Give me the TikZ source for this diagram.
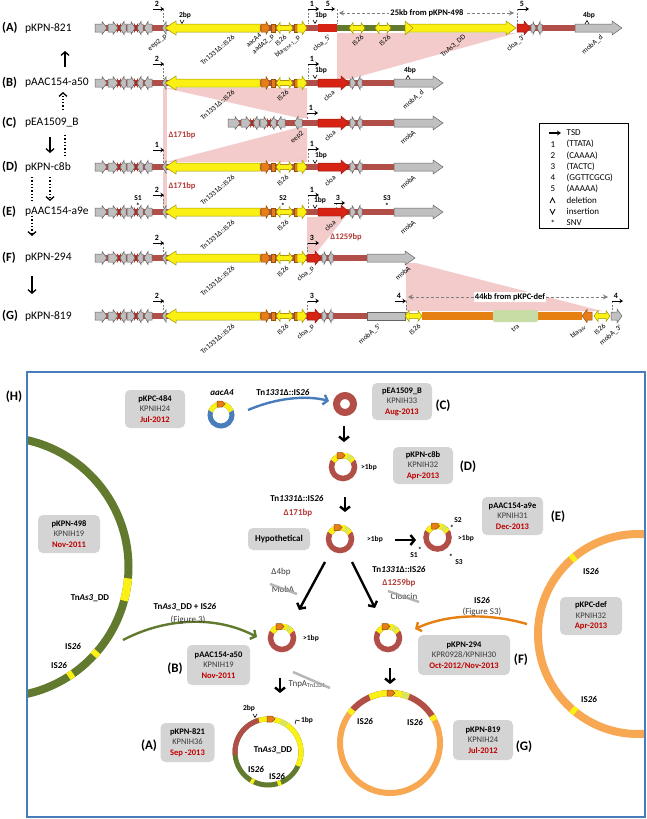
\documentclass[tikz,border=0pt]{standalone}
\usepackage{fontspec}
\setmainfont{Carlito}
\usetikzlibrary{arrows.meta,calc}
\definecolor{bk}{RGB}{178,78,72}
\definecolor{gfill}{RGB}{192,192,192}
\definecolor{gline}{RGB}{100,100,100}
\definecolor{yfill}{RGB}{250,240,20}
\definecolor{yline}{RGB}{160,150,0}
\definecolor{ofill}{RGB}{230,125,25}
\definecolor{oline}{RGB}{150,80,10}
\definecolor{rfill}{RGB}{215,35,20}
\definecolor{olive}{RGB}{98,122,45}
\definecolor{pinkS}{RGB}{243,203,203}
\definecolor{traG}{RGB}{200,220,165}
\definecolor{orangeBar}{RGB}{230,128,18}
\definecolor{orangeC}{RGB}{248,168,82}
\definecolor{blueP}{RGB}{72,124,186}
\definecolor{boxG}{RGB}{212,212,212}
\definecolor{dateR}{RGB}{192,0,0}
\definecolor{delR}{RGB}{178,60,58}
\definecolor{lgY}{RGB}{215,230,90}
\definecolor{txtG}{RGB}{60,60,60}
\tikzset{
 gS/.style={fill=gfill,draw=gline,line width=0.5pt},
 yS/.style={fill=yfill,draw=yline,line width=0.5pt},
 oS/.style={fill=ofill,draw=oline,line width=0.5pt},
 rS/.style={fill=rfill,draw=rfill!70!black,line width=0.5pt},
 glab/.style={font=\fontsize{7.2}{8}\selectfont, rotate=40, anchor=north east, inner sep=0.2pt},
 rowid/.style={font=\fontsize{12.5}{14}\selectfont\bfseries, anchor=west, inner sep=0pt},
 rowname/.style={font=\fontsize{11.5}{14}\selectfont, anchor=west, inner sep=0pt},
 tsdnum/.style={font=\fontsize{8}{8}\selectfont\bfseries, inner sep=0.5pt},
 tsdarr/.style={line width=1pt,-{Stealth[length=3.5pt,width=4.5pt]}},
 tsdline/.style={gray, line width=0.5pt, dash pattern=on 2pt off 1.5pt},
 bplab/.style={font=\fontsize{7.5}{8}\selectfont\bfseries, inner sep=0.3pt},
 dellab/.style={font=\fontsize{8.5}{9}\selectfont\bfseries, text=delR, inner sep=0.5pt},
 leg/.style={font=\fontsize{9}{10}\selectfont, anchor=west, inner sep=0.5pt},
 pbox/.style={fill=boxG, rounded corners=5pt, align=center, font=\fontsize{8.5}{10.5}\selectfont, inner sep=1pt},
 plab/.style={font=\fontsize{13}{14}\selectfont\bfseries, inner sep=0.5pt},
 ptxt/.style={font=\fontsize{9}{10}\selectfont\bfseries, inner sep=0.5pt},
 ptxtr/.style={font=\fontsize{9}{10}\selectfont, inner sep=0.5pt, text=txtG},
 blk/.style={line width=2.4pt, -{Straight Barb[length=4pt,width=10pt]}},
 thinblk/.style={line width=1.3pt, -{Straight Barb[length=3.5pt,width=8pt]}},
 dotblk/.style={line width=1.3pt, dotted, -{Straight Barb[length=3.5pt,width=8pt]}},
 strikebar/.style={line width=2.5pt, gray!70, opacity=0.8},
 kbarr/.style={gray, line width=1pt, dash pattern=on 3pt off 2pt, {Stealth[length=5pt,width=5pt]}-{Stealth[length=5pt,width=5pt]}},
 curvarr/.style={line width=2.4pt, -{Straight Barb[length=4pt,width=10pt]}},
}
% gene arrows: x1, x2, y, body half, head half, head length, style
\newcommand\arR[7]{\filldraw[#7] (#1,{#3-#4}) -- ({#2-#6},{#3-#4}) -- ({#2-#6},{#3-#5}) -- (#2,#3) -- ({#2-#6},{#3+#5}) -- ({#2-#6},{#3+#4}) -- (#1,{#3+#4}) -- cycle;}
\newcommand\arL[7]{\filldraw[#7] (#2,{#3-#4}) -- ({#1+#6},{#3-#4}) -- ({#1+#6},{#3-#5}) -- (#1,#3) -- ({#1+#6},{#3+#5}) -- ({#1+#6},{#3+#4}) -- (#2,{#3+#4}) -- cycle;}
\newcommand\arD[7]{\filldraw[#7] (#1,#3) -- ({#1+#6},{#3-#5}) -- ({#1+#6},{#3-#4}) -- ({#2-#6},{#3-#4}) -- ({#2-#6},{#3-#5}) -- (#2,#3) -- ({#2-#6},{#3+#5}) -- ({#2-#6},{#3+#4}) -- ({#1+#6},{#3+#4}) -- ({#1+#6},{#3+#5}) -- cycle;}
\newcommand\bb[3]{\fill[bk] (#1,{#3-3}) rectangle (#2,{#3+3});}
\newcommand\rx[2]{\draw[rfill!80!black, line width=0.7pt] ({#1-2},{#2-4.5}) -- ({#1+2},{#2+4.5}) ({#1-2},{#2+4.5}) -- ({#1+2},{#2-4.5});}
\newcommand\lp[2]{%
 \arR{#1}{#1+12}{#2}{4}{6.5}{5}{gS}
 \arR{#1+13}{#1+23}{#2}{4}{6.5}{5}{gS}
 \rx{#1+24}{#2}
 \arL{#1+25}{#1+31}{#2}{4}{6.5}{4}{gS}
 \arR{#1+32}{#1+40}{#2}{4}{6.5}{4}{gS}
 \rx{#1+41}{#2}
 \arL{#1+42}{#1+48}{#2}{4}{6.5}{4}{gS}
 \arL{#1+49}{#1+57}{#2}{4}{6.5}{4}{gS}}
\newcommand\tnm[1]{%
 \arL{165}{260}{#1}{4}{7}{11}{yS}
 \arR{261}{270}{#1}{4}{6.5}{4}{oS}
 \filldraw[oS] (271,{#1-4}) rectangle (275,{#1+4});
 \arD{276}{293}{#1}{2.5}{5.5}{4}{yS}
 \filldraw[oS] (294,{#1-4}) rectangle (297,{#1+4});
 \arR{297}{307}{#1}{4}{7}{5}{yS}}
\newcommand\rp[1]{%
 \arR{318}{349}{#1}{4}{7}{8}{rS}
 \arR{350}{356}{#1}{4}{6.5}{4}{gS}
 \arL{357}{362}{#1}{4}{6.5}{3}{gS}
 \arR{394}{443}{#1}{4}{7}{10}{gS}}
\newcommand\tsd[5]{\draw[tsdline] (#4,#3) -- (#4,#5); \draw[tsdarr] (#2,#3) -- (#2+11,#3); \node[tsdnum] at (#2+4,#3-5) {#1};}
\newcommand\insm[2]{\draw[line width=0.6pt] ({#1-2},{#2-2}) -- (#1,{#2+1.5}) -- ({#1+2},{#2-2});}
\newcommand\delm[2]{\draw[line width=0.6pt] ({#1-2},{#2+2}) -- (#1,{#2-1.5}) -- ({#1+2},{#2+2});}
\newcommand\oarr[2]{\filldraw[oS] ({#1-4},{#2-3}) -- ({#1+1},{#2-3}) -- ({#1+4},#2) -- ({#1+1},{#2+3}) -- ({#1-4},{#2+3}) -- cycle;}
\newcommand\plas[3]{%
 \coordinate (#1) at (#2,#3);
 \draw[bk, line width=5.5pt] (#1) circle[radius=11.5];
 \draw[yfill, line width=5.5pt] ([shift={(-30:11.5)}]#1) arc[start angle=-30, end angle=-150, radius=11.5];
 \draw[lgY, line width=5.5pt] ([shift={(-45:11.5)}]#1) arc[start angle=-45, end angle=-65, radius=11.5];
 \oarr{#2-2}{#3-11.5}}
\newcommand\bx[3]{\textbf{#1}\\\textcolor{txtG}{#2}\\\textcolor{dateR}{\textbf{#3}}}
\begin{document}
\begin{tikzpicture}[x=1pt,y=-1pt]
\useasboundingbox (0,0) rectangle (646,819);
\fill[white] (0,0) rectangle (646,819);
% ---------- homology shading
\fill[pinkS] (337,33) -- (516,33) -- (350,79) -- (337,79) -- cycle;
\fill[pinkS] (165,88) -- (307,88) -- (307,118) -- (299,118) -- cycle;
\fill[pinkS] (163,88) rectangle (166.5,162);
\fill[pinkS] (296,128) -- (307,128) -- (307,162) -- (166,162) -- cycle;
\fill[pinkS] (163,172) rectangle (166.5,207);
\fill[pinkS] (307,217) -- (345,217) -- (316,253) -- (307,253) -- cycle;
\fill[pinkS] (406,263) -- (416,263) -- (602,311) -- (406,311) -- cycle;
% ---------- row names
\node[rowid] (idA) at (2,28) {(A)}; \node[rowname] (nA) at (25,28) {pKPN-821};
\node[rowid] (idB) at (2,83) {(B)}; \node[rowname] (nB) at (25,83) {pAAC154-a50};
\node[rowid] (idC) at (2,123) {(C)}; \node[rowname] (nC) at (25,123) {pEA1509\_B};
\node[rowid] (idD) at (2,167) {(D)}; \node[rowname] (nD) at (25,167) {pKPN-c8b};
\node[rowid] (idE) at (2,212) {(E)}; \node[rowname] (nE) at (25,212) {pAAC154-a9e};
\node[rowid] (idF) at (2,258) {(F)}; \node[rowname] (nF) at (25,258) {pKPN-294};
\node[rowid] (idG) at (2,316) {(G)}; \node[rowname] (nG) at (25,316) {pKPN-819};
% ---------- evolution arrows on the left
\draw[thinblk] (65,67) -- (65,51);
\draw[dotblk] (63,110) -- (63,92);
\draw[thinblk] (50,137) -- (50,153);
\draw[line width=1.3pt, dotted] (65,135) -- (65,155);
\draw[line width=1.3pt, dotted] (32,177) -- (32,201);
\draw[dotblk] (50,177) -- (50,201);
\draw[dotblk] (32,216) -- (32,236);
\draw[thinblk] (32,276) -- (32,294);
% ---------- row A
\bb{95}{337}{28}
\lp{95}{28}
\arL{162}{166}{28}{3}{6}{4}{gS}
\tnm{28}
\fill[rfill] (318,24) rectangle (337,32);
\fill[olive] (337,25) rectangle (405,31);
\arD{349}{365}{28}{2.5}{5.5}{4}{yS}
\arD{375}{391}{28}{2.5}{5.5}{4}{yS}
\arR{405}{516}{28}{4}{7}{10}{yS}
\filldraw[yS] (405,21) -- (413,28) -- (405,35) -- cycle;
\bb{528}{575}{28}
\arR{517}{530}{28}{4}{7}{6}{rS}
\arR{531}{536}{28}{4}{6.5}{3}{gS}
\arL{537}{542}{28}{4}{6.5}{3}{gS}
\arR{575}{622}{28}{4}{7}{10}{gS}
% ---------- row B
\bb{95}{394}{83}
\lp{95}{83}
\arL{162}{166}{83}{3}{6}{4}{gS}
\tnm{83}
\rp{83}
% ---------- row C
\bb{228}{394}{123}
\lp{228}{123}
\arL{294}{302}{123}{4}{6.5}{4}{gS}
\rp{123}
% ---------- row D
\bb{95}{394}{167}
\lp{95}{167}
\arL{162}{166}{167}{3}{6}{4}{gS}
\tnm{167}
\rp{167}
% ---------- row E
\bb{95}{394}{212}
\lp{95}{212}
\arL{162}{166}{212}{3}{6}{4}{gS}
\tnm{212}
\rp{212}
% ---------- row F
\bb{95}{367}{258}
\lp{95}{258}
\arL{162}{166}{258}{3}{6}{4}{gS}
\tnm{258}
\arR{307}{321}{258}{4}{7}{6}{rS}
\arR{322}{327}{258}{4}{6.5}{3}{gS}
\arL{328}{333}{258}{4}{6.5}{3}{gS}
\arR{367}{415}{258}{4}{7}{10}{gS}
% ---------- row G
\bb{95}{367}{316}
\lp{95}{316}
\arL{162}{166}{316}{3}{6}{4}{gS}
\tnm{316}
\arR{307}{321}{316}{4}{7}{6}{rS}
\arR{322}{327}{316}{4}{6.5}{3}{gS}
\arL{328}{333}{316}{4}{6.5}{3}{gS}
\filldraw[gS] (367,312) rectangle (405,320);
\fill[orangeBar] (422,312) rectangle (582,320);
\fill[traG, rounded corners=2pt] (493,310) rectangle (538,322);
\arD{405}{422}{316}{2.5}{5.5}{4}{yS}
\arL{582}{592}{316}{4}{6.5}{5}{oS}
\arD{594}{610}{316}{2.5}{5.5}{4}{yS}
\arR{611}{622}{316}{4}{7}{5}{gS}
% ---------- TSD markers
\tsd{2}{153}{9}{163}{23} \tsd{1}{308}{9}{308}{24} \tsd{5}{324}{9}{337}{24} \tsd{5}{518}{9}{517}{24}
\tsd{2}{153}{64}{163}{79} \tsd{1}{308}{64}{308}{79}
\tsd{1}{307}{113}{307}{119}
\tsd{1}{153}{150}{163}{163} \tsd{1}{308}{149}{308}{163}
\tsd{2}{153}{195}{163}{208} \tsd{1}{308}{195}{308}{208} \tsd{3}{334}{203}{336}{208}
\tsd{2}{153}{243}{163}{254} \tsd{3}{308}{243}{307}{254}
\tsd{2}{153}{301}{163}{312} \tsd{3}{308}{301}{307}{312} \tsd{4}{395}{301}{406}{312} \tsd{4}{612}{301}{612}{312}
% ---------- bp / SNV marks
\node[bplab] (bpA2) at (185,15) {2bp}; \insm{182}{22}
\node[bplab] (bpA1) at (321,15) {1bp}; \insm{315}{22}
\node[bplab] (bpA4) at (589,15) {4bp}; \delm{587}{22}
\node[bplab] (bpB1) at (321,70) {1bp}; \insm{315}{77}
\node[bplab] (bpB4) at (410,70) {4bp}; \delm{408}{77}
\node[bplab] (bpD1) at (321,155) {1bp}; \insm{315}{162}
\node[bplab] (bpE1) at (320,200) {1bp}; \insm{315}{207}
\node[bplab] (s1) at (138,198) {S1}; \node[bplab] (s1s) at (138,205.5) {*};
\node[bplab] (s2) at (283,198) {S2}; \node[bplab] (s2s) at (283,205.5) {*};
\node[bplab] (s3) at (387,198) {S3}; \node[bplab] (s3s) at (387,206) {*};
% ---------- kb spans
\draw[kbarr] (339,13) -- (514,13);
\node[fill=white, font=\fontsize{8.5}{9}\selectfont\bfseries, inner sep=1pt] (kb25) at (427,13) {25kb from pKPN-498};
\draw[kbarr] (408,297) -- (608,297);
\node[fill=white, font=\fontsize{8.5}{9}\selectfont\bfseries, inner sep=1pt] (kb44) at (510,297) {44kb from pKPC-def};
% ---------- deletion labels
\node[dellab] (d171a) at (182,135) {Δ171bp};
\node[dellab] (d171b) at (182,186) {Δ171bp};
\node[dellab] (d1259) at (346,237) {Δ1259bp};
% ---------- gene labels
\node[glab] at (164,33) {eep2\_p};
\node[glab] at (232,34) {Tn1331Δ::IS26};
\node[glab] at (259,32) {aacA4};
\node[glab] at (271,33) {aadA2\_p};
\node[glab] at (284,34) {IS26};
\node[glab] at (297,34) {bla\textsubscript{TEM-1}\_p};
\node[glab] at (328,34) {cloa\_5'};
\node[glab] at (361,34) {IS26};
\node[glab] at (388,34) {IS26};
\node[glab] at (463,34) {TnAs3\_DD};
\node[glab] at (522,34) {cloa\_3'};
\node[glab] at (600,34) {mobA\_d};
\node[glab] at (232,89) {Tn1331Δ::IS26};
\node[glab] at (286,89) {IS26};
\node[glab] at (332,89) {cloa};
\node[glab] at (421,89) {mobA\_d};
\node[glab] at (301,130) {eep2};
\node[glab] at (333,129) {cloa};
\node[glab] at (413,129) {mobA};
\node[glab] at (232,174) {Tn1331Δ::IS26};
\node[glab] at (286,174) {IS26};
\node[glab] at (333,174) {cloa};
\node[glab] at (413,174) {mobA};
\node[glab] at (232,219) {Tn1331Δ::IS26};
\node[glab] at (286,219) {IS26};
\node[glab] at (333,219) {cloa};
\node[glab] at (413,219) {mobA};
\node[glab] at (232,265) {Tn1331Δ::IS26};
\node[glab] at (286,265) {IS26};
\node[glab] at (311,265) {cloa\_p};
\node[glab] at (408,265) {mobA};
\node[glab] at (232,323) {Tn1331Δ::IS26};
\node[glab] at (286,323) {IS26};
\node[glab] at (311,323) {cloa\_p};
\node[glab] at (378,323) {mobA\_5'};
\node[glab] at (418,323) {IS26};
\node[glab] at (517,323) {tra};
\node[glab] at (583,323) {bla\textsubscript{SHV}};
\node[glab] at (603,323) {IS26};
\node[glab] at (619,324) {mobA\_3'};
% ---------- legend
\draw[line width=0.6pt] (539,123) rectangle (628,228);
\draw[line width=1.3pt,-{Stealth[length=4pt,width=5pt]}] (549,133) -- (561,133);
\node[leg] (lg0) at (566,133) {TSD};
\node[leg] at (550,144.2) {1}; \node[leg] (lg1) at (566,144.2) {(TTATA)};
\node[leg] at (550,155.4) {2}; \node[leg] (lg2) at (566,155.4) {(CAAAA)};
\node[leg] at (550,166.6) {3}; \node[leg] (lg3) at (566,166.6) {(TACTC)};
\node[leg] at (550,177.8) {4}; \node[leg] (lg4) at (566,177.8) {(GGTTCGCG)};
\node[leg] at (550,189) {5}; \node[leg] (lg5) at (566,189) {(AAAAA)};
\draw[line width=0.7pt] (550,203) -- (552.5,198) -- (555,203);
\node[leg] (lg6) at (566,200.2) {deletion};
\draw[line width=0.7pt] (550,209) -- (552.5,214) -- (555,209);
\node[leg] (lg7) at (566,211.4) {insertion};
\node[leg] at (550,223.6) {*}; \node[leg] (lg8) at (566,222.6) {SNV};
% ================= panel H
\begin{scope}
\clip (27,372) rectangle (645,817);
\coordinate (c498) at (-1.5,567);
\draw[olive, line width=8pt] (c498) circle[radius=130];
\draw[yfill, line width=8pt] ([shift={(5:130)}]c498) arc[start angle=5,end angle=15,radius=130];
\draw[yfill, line width=8pt] ([shift={(40.5:130)}]c498) arc[start angle=40.5,end angle=43,radius=130];
\draw[yfill, line width=8pt] ([shift={(55:130)}]c498) arc[start angle=55,end angle=57.5,radius=130];
\coordinate (cdef) at (638,634);
\draw[orangeC, line width=8pt] (cdef) circle[radius=100];
\draw[yfill, line width=8pt] ([shift={(-129:100)}]cdef) arc[start angle=-129,end angle=-132,radius=100];
\draw[yfill, line width=8pt] ([shift={(128.5:100)}]cdef) arc[start angle=128.5,end angle=131.5,radius=100];
\end{scope}
\draw[blueP, line width=1.8pt] (27,372) rectangle (645,817);
\node[plab] (lH) at (14,397) {(H)};
% boxes
\node[pbox, minimum width=60pt, minimum height=38pt] (b484) at (155,409) {\bx{pKPC-484}{KPNIH24}{Jul-2012}};
\node[pbox, minimum width=60pt, minimum height=37pt] (bC) at (402,401.5) {\bx{pEA1509\_B}{KPNIH33}{Aug-2013}};
\node[pbox, minimum width=60pt, minimum height=37pt] (bD) at (423,465.5) {\bx{pKPN-c8b}{KPNIH32}{Apr-2013}};
\node[pbox, minimum width=62pt, minimum height=22pt, font=\fontsize{9}{10}\selectfont\bfseries] (bH) at (279,539) {Hypothetical};
\node[pbox, minimum width=61pt, minimum height=38pt] (bE) at (512.5,516) {\bx{pAAC154-a9e}{KPNIH31}{Dec-2013}};
\node[pbox, minimum width=62pt, minimum height=38pt] (b498) at (69,534) {\bx{pKPN-498}{KPNIH19}{Nov-2011}};
\node[pbox, minimum width=62pt, minimum height=38pt] (bdef) at (591,616) {\bx{pKPC-def}{KPNIH32}{Apr-2013}};
\node[pbox, minimum width=92pt, minimum height=40pt] (bF) at (464,655) {\bx{pKPN-294}{KPR0928/KPNIH30}{Oct-2012/Nov-2013}};
\node[pbox, minimum width=63pt, minimum height=40pt] (bB) at (218.5,665) {\bx{pAAC154-a50}{KPNIH19}{Nov-2011}};
\node[pbox, minimum width=54pt, minimum height=39pt] (bA) at (187.5,742.5) {\bx{pKPN-821}{KPNIH36}{Sep -2013}};
\node[pbox, minimum width=60pt, minimum height=40pt] (bG) at (483,740) {\bx{pKPN-819}{KPNIH24}{Jul-2012}};
% panel letters
\node[plab] (pC) at (443,406) {(C)};
\node[plab] (pD) at (468,467) {(D)};
\node[plab] (pE) at (558,517) {(E)};
\node[plab] (pF) at (521,660) {(F)};
\node[plab] (pB) at (175,669) {(B)};
\node[plab] (pA) at (149,746) {(A)};
\node[plab] (pG) at (524,747) {(G)};
% small plasmids
\coordinate (c484) at (221,415);
\draw[blueP, line width=5pt] (c484) circle[radius=11];
\draw[yfill, line width=5pt] ([shift={(-20:11)}]c484) arc[start angle=-20,end angle=-160,radius=11];
\oarr{221}{404}
\node[ptxt, font=\fontsize{9}{10}\selectfont\bfseries\itshape] (laac) at (222,393) {aacA4};
\coordinate (cC) at (345,404);
\draw[bk, line width=7pt] (cC) circle[radius=8.5];
\plas{cD}{343}{467}
\plas{cH}{340}{539}
\plas{cE}{437.5}{537.5}
\plas{cB}{282}{638}
\plas{cF}{388}{638}
\node[bplab] at (369,467) {>1bp};
\node[bplab] at (375,539) {>1bp};
\node[bplab] at (466,538) {>1bp};
\node[bplab] at (311,638) {>1bp};
\node[bplab] at (458,520) {S2}; \node[bplab] at (452,528) {*};
\node[bplab] at (414,555) {S1}; \node[bplab] at (420,550) {*};
\node[bplab] at (459,562) {S3}; \node[bplab] at (451,557) {*};
% plasmid A
\coordinate (cA) at (268,752);
\draw[olive, line width=5pt] (cA) circle[radius=33];
\draw[bk, line width=5pt] ([shift={(-105:33)}]cA) arc[start angle=-105,end angle=-185,radius=33];
\draw[yfill, line width=5pt] ([shift={(-45:33)}]cA) arc[start angle=-45,end angle=-106,radius=33];
\draw[yfill, line width=5pt] ([shift={(25:33)}]cA) arc[start angle=25,end angle=-46,radius=33];
\draw[lgY, line width=5pt] ([shift={(-55:33)}]cA) arc[start angle=-55,end angle=-67,radius=33];
\draw[yfill, line width=5pt] ([shift={(67:33)}]cA) arc[start angle=67,end angle=73,radius=33];
\draw[yfill, line width=5pt] ([shift={(115:33)}]cA) arc[start angle=115,end angle=121,radius=33];
\oarr{271}{719}
\node[bplab] at (249,708) {2bp}; \insm{255}{716}
\node[bplab] at (307,720) {1bp}; \draw[line width=0.6pt] (295,724) -- (296,720) -- (300,721);
\node[ptxt] at (273,750) {Tn\textit{As3}\_DD};
\node[ptxt] at (256,769) {IS\textit{26}};
\node[ptxt] at (277,776) {IS\textit{26}};
% plasmid G
\coordinate (cG) at (390,743);
\draw[orangeC, line width=6pt] (cG) circle[radius=50];
\draw[bk, line width=6pt] ([shift={(-30:50)}]cG) arc[start angle=-30,end angle=-141,radius=50];
\draw[yfill, line width=6pt] ([shift={(-68:50)}]cG) arc[start angle=-68,end angle=-114,radius=50];
\draw[lgY, line width=6pt] ([shift={(-68:50)}]cG) arc[start angle=-68,end angle=-76,radius=50];
\draw[yfill, line width=6pt] ([shift={(-27:50)}]cG) arc[start angle=-27,end angle=-33,radius=50];
\draw[yfill, line width=6pt] ([shift={(-138:50)}]cG) arc[start angle=-138,end angle=-144,radius=50];
\oarr{391}{693}
\node[ptxt] at (365,721) {IS\textit{26}};
\node[ptxt] at (415,722) {IS\textit{26}};
% big-plasmid labels
\node[ptxt] at (90,598) {Tn\textit{As3}\_DD};
\node[ptxt] at (73,646) {IS\textit{26}};
\node[ptxt] at (59,665) {IS\textit{26}};
\node[ptxt] at (591,571) {IS\textit{26}};
\node[ptxt] at (589,699) {IS\textit{26}};
% arrows
\draw[blueP, curvarr] ($(c484)+(27,-5)$) .. controls ($(c484)+(55,-17)$) and ($(c484)+(85,-20)$) .. ($(cC)+(-16,-3)$);
\node[ptxt] (lTnA) at (283,392) {Tn\textit{1331}Δ::IS\textit{26}};
\draw[blk] ($(cC)+(-1,22)$) -- ($(cC)+(-1,38)$);
\draw[blk] ($(cD)+(2,30)$) -- ($(cD)+(2,45)$);
\node[ptxt] (lTnB) at (297,498) {Tn\textit{1331}Δ::IS\textit{26}};
\node[dellab, font=\fontsize{9}{10}\selectfont\bfseries] (l171) at (298,513) {Δ171bp};
\draw[blk] ($(cH)+(55,1)$) -- ($(cH)+(76,1)$);
\draw[blk] ($(cH)+(-15,23)$) -- ($(cB)+(17,-28)$);
\draw[blk] ($(cH)+(12,23)$) -- ($(cF)+(-13,-30)$);
\draw[blk] ($(cB)+(-2,40)$) -- ($(cB)+(-2,55)$);
\draw[blk] ($(cF)+(2,30)$) -- ($(cF)+(2,46)$);
\node[ptxtr] (l4bp) at (281,572) {Δ4bp};
\node[ptxtr] (lmob) at (283,589) {MobA};
\draw[strikebar] (270,584) -- (297,594);
\node[ptxt] (lTnC) at (399,569) {Tn\textit{1331}Δ::IS\textit{26}};
\node[dellab, font=\fontsize{9}{10}\selectfont\bfseries] (l1259) at (399,583) {Δ1259bp};
\node[ptxtr] (lclo) at (404,596) {Cloacin};
\draw[strikebar] (388,591) -- (419,602);
\node[ptxtr, anchor=west] (ltnp) at (288,684) {TnpA\textsubscript{Tn1331}};
\draw[strikebar] (293,672) -- (330,688);
\draw[olive, curvarr] (123,640) .. controls (165,618) and (215,615) .. ($(cB)+(-25,-1)$);
\node[ptxt] (lgr1) at (185,607) {Tn\textit{As3}\_DD + IS\textit{26}};
\node[ptxtr] (lgr2) at (188,620) {(Figure 3)};
\draw[orangeBar, curvarr] (527,624) .. controls (485,612) and (445,615) .. ($(cF)+(27,-9)$);
\node[ptxt] (lor1) at (482,600) {IS\textit{26}};
\node[ptxtr] (lor2) at (482,612) {(Figure S3)};
\end{tikzpicture}
\end{document}
